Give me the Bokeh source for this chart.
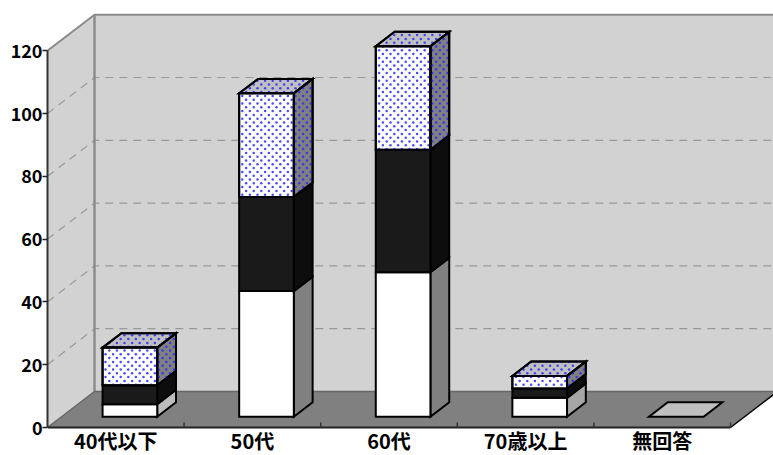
from bokeh.embed import file_html
from bokeh.resources import INLINE
from bokeh.core.properties import value
from bokeh.models import ColumnDataSource, FixedTicker, LinearAxis, Range1d
from bokeh.plotting import figure

categories = ["40代以下", "50代", "60代", "70歳以上", "無回答"]
series_white = [4, 40, 46, 6, 0]
series_black = [6, 30, 39, 3, 0]
series_dotted = [12, 33, 33, 4, 0]
y_ticks = [0, 20, 40, 60, 80, 100, 120]
white_side = ["#BDBDBD", "#808080", "#808080", "#A6A6A6", "#808080"]

PX_CAT, PX_VAL = 136.6, 3.14
DX, DY = 47 / PX_CAT, 36 / PX_VAL   # full-depth offset in data units
def pr(x, v, d):
    return x + d * DX, v + d * DY

p = figure(width=773, height=455, output_backend="svg", toolbar_location=None,
           x_range=Range1d(0, 726 / PX_CAT), y_range=Range1d(-28 / PX_VAL, 427 / PX_VAL),
           min_border_left=47, min_border_right=0, min_border_top=0, min_border_bottom=0,
           x_axis_type=None, y_axis_type=None)
p.grid.visible = False
p.outline_line_color = None
p.background_fill_color = "white"

XE = 6.0
WALL, FLOOR, EDGE = "#D2D2D2", "#808080", "#8C8C8C"
def poly(pts, **kw):
    xs, ys = zip(*pts)
    p.patch(list(xs), list(ys), **kw)

poly([pr(0, 0, 1), pr(XE, 0, 1), pr(XE, 120, 1), pr(0, 120, 1)], fill_color=WALL, line_color=None)
poly([pr(0, 0, 0), pr(0, 120, 0), pr(0, 120, 1), pr(0, 0, 1)], fill_color=WALL, line_color=None)
poly([pr(0, 0, 0), pr(5, 0, 0), pr(5, 0, 1), pr(0, 0, 1)], fill_color=FLOOR, line_color=None)

gx, gy = [], []
for v in y_ticks[1:-1]:
    a, b, c = pr(0, v, 0), pr(0, v, 1), pr(XE, v, 1)
    gx.append([a[0], b[0], c[0]]); gy.append([a[1], b[1], c[1]])
p.multi_line(gx, gy, line_color="#999999", line_width=1.2, line_dash="8 6")

for pts, col, w in [
    ([pr(0, 120, 0), pr(0, 120, 1), pr(XE, 120, 1)], EDGE, 2),
    ([pr(0, 120, 1), pr(0, 0, 1)], EDGE, 2.5),
    ([pr(0, 0, 0), pr(0, 0, 1), pr(XE, 0, 1)], "#666666", 1.5),
    ([pr(5, 0, 0), pr(5, 0, 1)], "#000000", 1.5),
]:
    xs, ys = zip(*pts)
    p.line(list(xs), list(ys), line_color=col, line_width=w)

D0, D1 = 0.3, 0.7
L, R = 0.3, 0.7

def box_faces(i, v0, v1):
    x0, x1 = i + L, i + R
    front = [pr(x0, v0, D0), pr(x1, v0, D0), pr(x1, v1, D0), pr(x0, v1, D0)]
    side = [pr(x1, v0, D0), pr(x1, v0, D1), pr(x1, v1, D1), pr(x1, v1, D0)]
    top = [pr(x0, v1, D0), pr(x1, v1, D0), pr(x1, v1, D1), pr(x0, v1, D1)]
    return front, side, top

def draw(faces, cols):
    src = ColumnDataSource(dict(xs=[[q[0] for q in f] for f in faces],
                                ys=[[q[1] for q in f] for f in faces], c=cols))
    p.patches("xs", "ys", source=src, fill_color="c", line_color="black", line_width=2,
              line_join="miter")

def inside(px, py, pts):
    sign = 0
    n = len(pts)
    for k in range(n):
        ax, ay = pts[k]; bx, by = pts[(k + 1) % n]
        cr = (bx - ax) * (py - ay) - (by - ay) * (px - ax)
        if abs(cr) < 1e-9:
            return False
        s = 1 if cr > 0 else -1
        if sign == 0:
            sign = s
        elif s != sign:
            return False
    return True

def dots_in(face):
    """staggered screen-aligned dot screen clipped to a face"""
    xs, ys = [], []
    for r in range(0, 140):
        for c in range(0, 110):
            px = c * 7.6 + (3.8 if r % 2 else 0) + 1
            py = r * 3.8 + 1
            dx, dv = px / PX_CAT, py / PX_VAL
            if inside(dx, dv, face):
                xs.append(dx); ys.append(dv)
    return xs, ys

for i in range(5):
    w, b, d = series_white[i], series_black[i], series_dotted[i]
    if w + b + d == 0:
        draw([box_faces(i, 0, 0)[2]], ["#C0C0C0"])
        continue
    f, s, t = box_faces(i, 0, w)
    draw([s, f], [white_side[i], "#FFFFFF"])
    f, s, t = box_faces(i, w, w + b)
    draw([s, f], ["#0D0D0D", "#1A1A1A"])
    f, s, t = box_faces(i, w + b, w + b + d)
    draw([t, s, f], ["#C0C0C0", "#808080", "#FFFFFF"])
    for face in (t, s, f):
        dx, dy = dots_in(face)
        p.scatter(dx, dy, size=2.5, marker="circle", fill_color="#2A2AFF", fill_alpha=0.85, line_color=None)
    for face in (t, s, f):
        p.patch([q[0] for q in face], [q[1] for q in face], fill_color=None,
                line_color="black", line_width=2, line_join="miter")

FONT = "Noto Sans CJK JP"
ya = LinearAxis(ticker=FixedTicker(ticks=y_ticks), bounds=(0, 120))
ya.axis_line_color = "#333333"; ya.axis_line_width = 2
ya.major_tick_line_color = "#222222"; ya.major_tick_line_width = 1.5
ya.major_tick_in = 0; ya.major_tick_out = 5; ya.minor_tick_line_color = None
ya.major_label_text_font = FONT; ya.major_label_text_font_style = "bold"
ya.major_label_text_font_size = "18px"; ya.major_label_text_color = "black"
ya.major_label_standoff = 0
p.add_layout(ya, "left")

# category axis: baseline, inner ticks and labels
cat_edges = [0, 1, 2, 3, 4, 5]
centers = [i + 0.5 for i in range(5)]
p.line([cat_edges[0], cat_edges[-1]], [0, 0], line_color="#222222", line_width=2)
p.segment(cat_edges[1:], [0] * 5, cat_edges[1:], [5 / PX_VAL] * 5, line_color="#333333", line_width=1.5)
p.text(centers, [-13 / PX_VAL] * 5, text=categories, text_font=value(FONT), text_font_style="bold",
       text_font_size="20px", text_color="black", text_align="center", text_baseline="middle")

open("out.html", "w").write(file_html(p, INLINE))
